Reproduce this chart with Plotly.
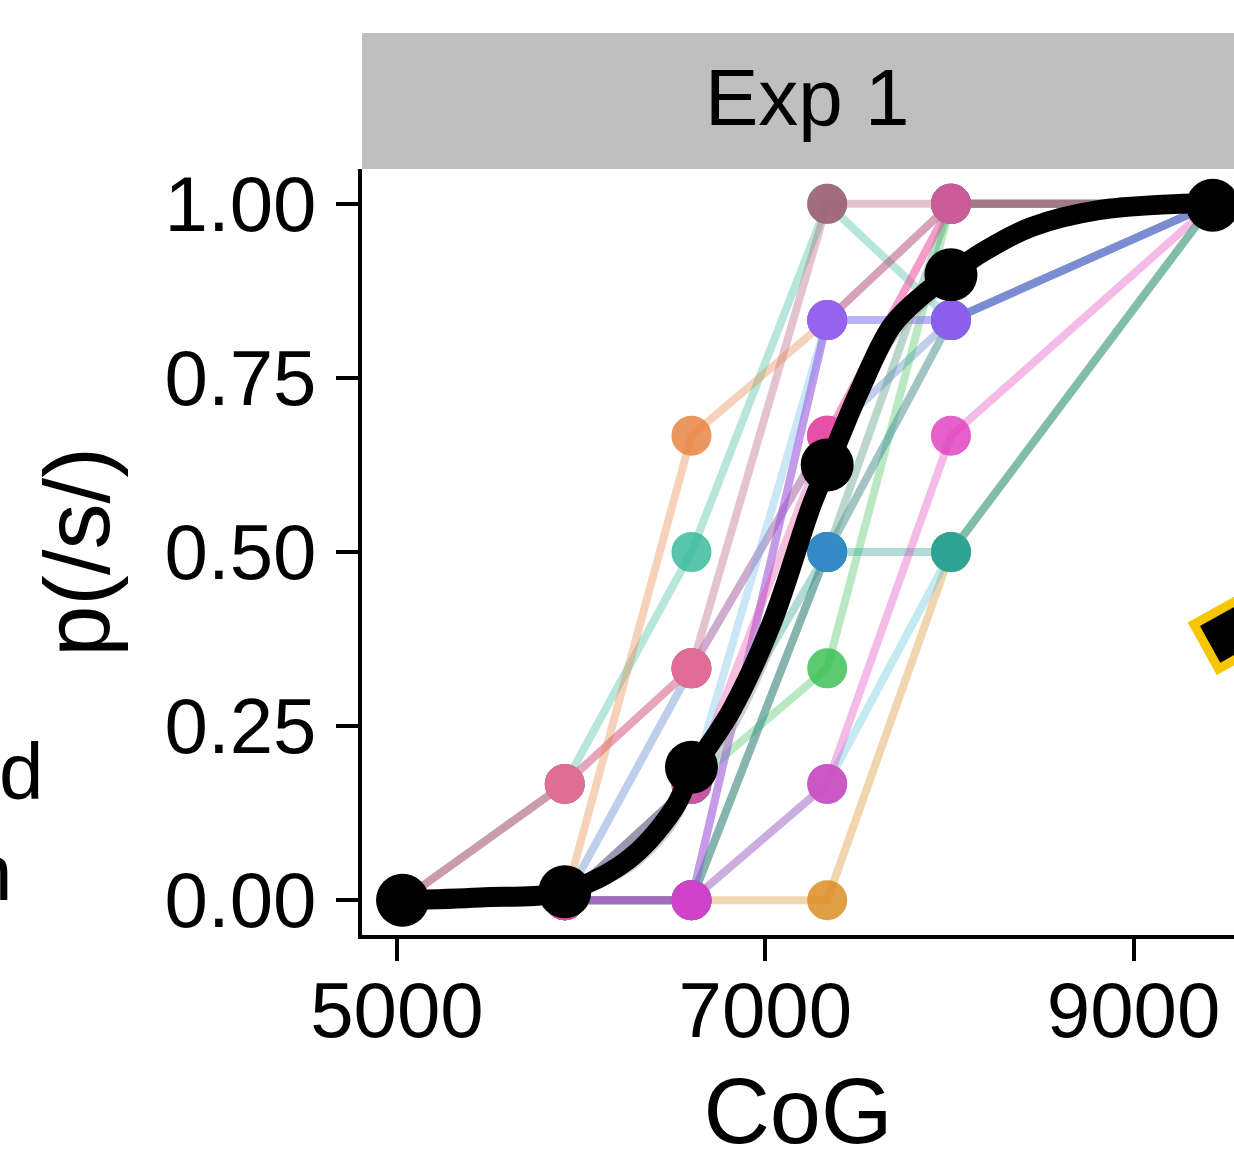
import plotly.graph_objects as go

# ---------------- data ----------------
cog_levels = [5030, 5911, 6599, 7336, 8008, 9429]

participant_ids = ["S05", "S02", "S01", "S03", "S04", "S06", "S07", "S13", "S08",
                   "S10", "S11", "S12", "S15", "S17", "S14", "S09", "S16"]
participant_props = [
    [0, 0, 0.333, 0.667, 0.833, 1],
    [0, 0.167, 0.5, 1, 0.833, 1],
    [0, 0.167, 0.333, 1, 1, 1],
    [0, 0.167, 0.333, 0.667, 1, 1],
    [0, 0, 0.667, 0.833, 1, 1],
    [0, 0, 0, 0.833, 1, 1],
    [0, 0, 0, 0.5, 1, 1],
    [0, 0, 0, 0.5, 0.833, 1],
    [0, 0, 0, 0, 0.5, 1],
    [0, 0, 0, 0.167, 0.5, 1],
    [0, 0, 0.167, 0.333, 1, 1],
    [0, 0, 0.167, 0.833, 0.833, 1],
    [0, 0, 0.167, 0.5, 0.5, 1],
    [0, 0, 0, 0.5, 0.833, 1],
    [0, 0, 0, 0.833, 0.833, 1],
    [0, 0, 0, 0.167, 0.667, 1],
    [0, 0, 0.167, 0.667, 1, 1],
]
participant_colors = ["#4a78c8", "#35b99a", "#b25a74", "#ee6e9a", "#e8803c", "#9a4cb4",
                      "#3f8c6c", "#a6c040", "#d98a1c", "#54c6d6", "#38bf52", "#6cb8ea",
                      "#1f9e8c", "#3486d6", "#9d55f2", "#e03ec0", "#ec48a8"]

mean_props = [0.0, 0.012, 0.191, 0.625, 0.898, 0.998]

fit_x = [5033, 5450, 5900, 6250, 6500, 6604, 6821, 7038, 7255, 7347, 7509, 7688,
         7850, 8014, 8176, 8447, 8810, 9260, 9444]
fit_y = [0.0, 0.004, 0.012, 0.057, 0.13, 0.185, 0.275, 0.40, 0.57, 0.628, 0.73, 0.825,
         0.868, 0.900, 0.930, 0.967, 0.991, 1.0, 1.0]
fit_lo = [0.0, 0.002, 0.005, 0.037, 0.10, 0.150, 0.235, 0.355, 0.53, 0.592, 0.697, 0.795,
          0.845, 0.880, 0.912, 0.953, 0.983, 0.996, 0.998]
fit_hi = [0.002, 0.008, 0.02, 0.072, 0.145, 0.20, 0.29, 0.415, 0.585, 0.642, 0.745, 0.838,
          0.879, 0.910, 0.940, 0.974, 0.995, 1.0, 1.0]

x_ticks = [5000, 7000, 9000]
y_ticks = [0, 0.25, 0.5, 0.75, 1.0]
panel_label = "Exp 1"
x_title = "CoG"
y_title = "p(/s/)"

# element from the neighbouring panel, partly visible at the right edge
edge_marker_x = [9515]
edge_marker_y = [0.382]
# cut-off text from the neighbouring panel at the left edge
edge_texts = ["d", "n"]

FONT = "Liberation Sans, Arial, Helvetica, sans-serif"

fig = go.Figure()

# individual participant lines
for pid, props, col in zip(participant_ids, participant_props, participant_colors):
    fig.add_trace(go.Scatter(
        x=cog_levels, y=props, mode="lines", name=pid,
        line=dict(color=col, width=8), opacity=0.35,
        showlegend=False, hoverinfo="skip"))

# individual participant points
for pid, props, col in zip(participant_ids, participant_props, participant_colors):
    fig.add_trace(go.Scatter(
        x=cog_levels, y=props, mode="markers", name=pid,
        marker=dict(color=col, size=38, line=dict(color=col, width=2)),
        opacity=0.82, showlegend=False, hoverinfo="skip"))

# ribbon
fig.add_trace(go.Scatter(x=fit_x, y=fit_lo, mode="lines", line=dict(width=0, shape="spline"),
                         showlegend=False, hoverinfo="skip"))
fig.add_trace(go.Scatter(x=fit_x, y=fit_hi, mode="lines", line=dict(width=0, shape="spline"),
                         fill="tonexty", fillcolor="rgba(175,175,175,0.6)",
                         showlegend=False, hoverinfo="skip"))

# fitted curve
fig.add_trace(go.Scatter(x=fit_x, y=fit_y, mode="lines",
                         line=dict(color="black", width=20, shape="spline", smoothing=1),
                         showlegend=False, hoverinfo="skip"))
# group means
fig.add_trace(go.Scatter(x=cog_levels, y=mean_props, mode="markers",
                         marker=dict(color="black", size=53),
                         showlegend=False, hoverinfo="skip"))

# neighbouring panel marker
fig.add_trace(go.Scatter(x=edge_marker_x, y=edge_marker_y, mode="markers",
                         marker=dict(symbol="square", color="black", size=51, angle=-29,
                                     line=dict(color="#f7c600", width=9)),
                         showlegend=False, hoverinfo="skip"))

fig.update_layout(
    width=1234, height=1162,
    margin=dict(l=362, r=0, t=169, b=227),
    paper_bgcolor="white", plot_bgcolor="white",
    font=dict(family=FONT, color="black", size=78),
    shapes=[dict(type="rect", xref="paper", yref="paper", x0=0, x1=1.05, y0=1.0, y1=1.1775,
                 fillcolor="#bfbfbf", line=dict(width=0), layer="below")],
    annotations=[
        dict(text=panel_label, xref="paper", yref="paper", x=0.511, y=1.0927,
             xanchor="center", yanchor="middle", showarrow=False,
             font=dict(size=80, family=FONT, color="black")),
        dict(text=edge_texts[0], xref="paper", yref="paper", x=-0.362, y=0.214,
             xanchor="right", yanchor="middle", showarrow=False,
             font=dict(size=80, family=FONT, color="black")),
        dict(text=edge_texts[1], xref="paper", yref="paper", x=-0.398, y=0.082,
             xanchor="right", yanchor="middle", showarrow=False,
             font=dict(size=80, family=FONT, color="black")),
    ],
)

fig.update_xaxes(
    range=[4810, 9545], tickvals=x_ticks, ticktext=[str(v) for v in x_ticks],
    showline=True, linecolor="black", linewidth=4, mirror=False,
    ticks="outside", ticklen=22, tickwidth=4, tickcolor="black",
    showgrid=False, zeroline=False, ticklabelstandoff=-18,
    tickfont=dict(size=78, family=FONT, color="black"),
    title=dict(text=x_title, font=dict(size=92, family=FONT, color="black"), standoff=43),
)
fig.update_yaxes(
    range=[-0.05, 1.05], tickvals=y_ticks, tickformat=".2f",
    showline=True, linecolor="black", linewidth=4, mirror=False,
    ticks="outside", ticklen=22, tickwidth=4, tickcolor="black",
    showgrid=False, zeroline=False, ticklabelstandoff=4,
    tickfont=dict(size=78, family=FONT, color="black"),
    title=dict(text=y_title, font=dict(size=92, family=FONT, color="black"), standoff=25),
)

fig.write_html("out.html", config={"displayModeBar": False},
               post_script="document.body.style.margin='0px';document.body.style.overflow='hidden';")
